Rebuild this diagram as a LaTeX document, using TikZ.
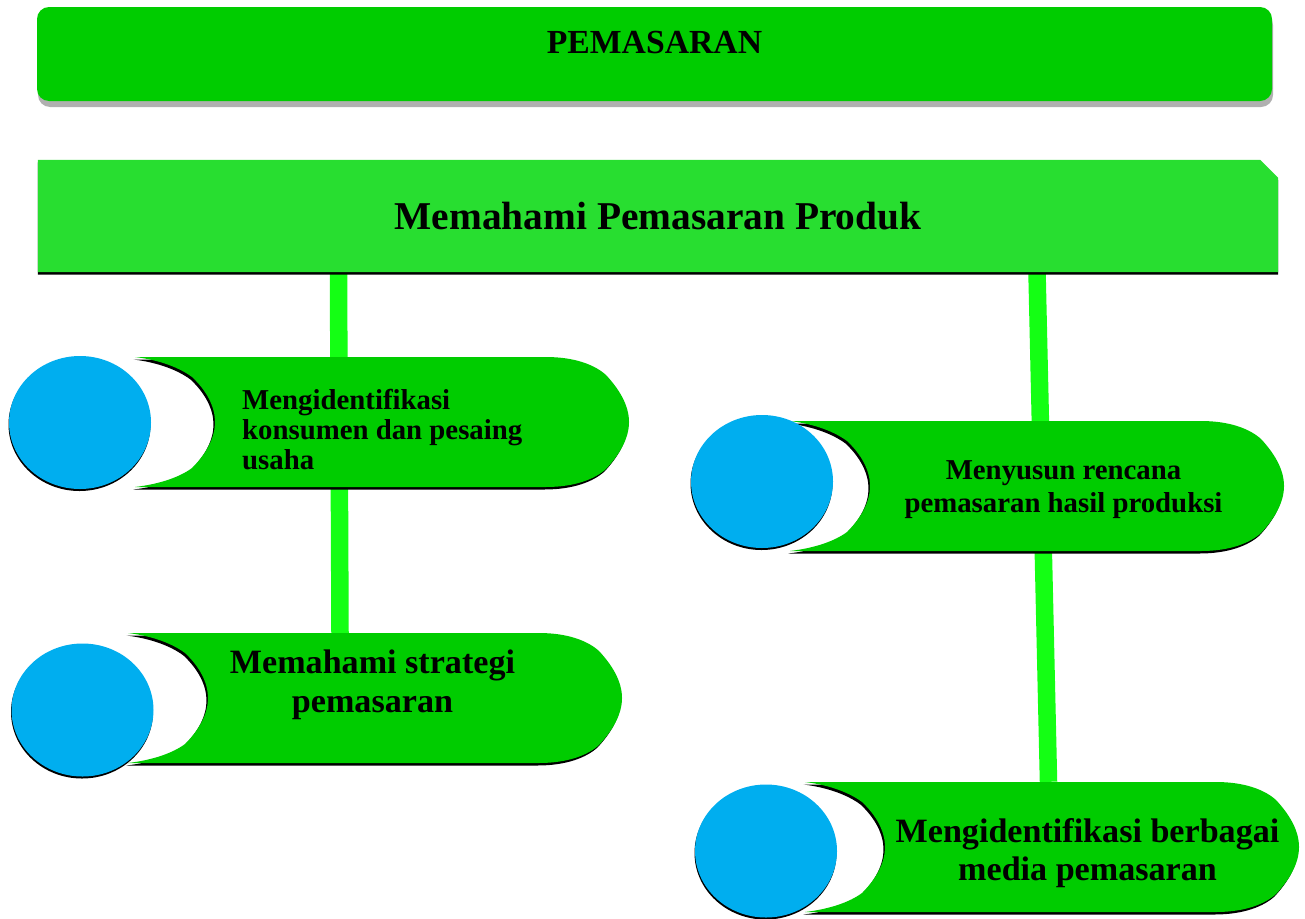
\documentclass[tikz,border=0pt]{standalone}
\usepackage{fontspec}
\setmainfont{Liberation Serif}[Ligatures=CommonOff]
\usepackage{tikz}
\usetikzlibrary{shapes.geometric, positioning, shadows}
\definecolor{TabGreen}{RGB}{0,204,0}
\definecolor{BarGreen}{RGB}{40,222,48}
\definecolor{LinkGreen}{RGB}{20,255,20}
\definecolor{DotBlue}{RGB}{0,174,239}
\definecolor{ShadowGray}{RGB}{176,176,176}

\pgfdeclarelayer{back}
\pgfsetlayers{back,main}

\tikzset{
  tabshadow/.style={drop shadow={shadow xshift=-1.5pt, shadow yshift=-2.5pt,
                    fill=black, opacity=1}},
  pics/tab/.style={code={
    \fill[TabGreen, tabshadow] (0,0) -- (411,0)
      .. controls (440,0) and (460,8) .. (471,18)
      .. controls (484,32) and (494,48) .. (494,65)
      .. controls (494,82) and (484,98) .. (471,112)
      .. controls (460,122) and (440,130) .. (411,130)
      -- (0,130)
      .. controls (25,127) and (45,120) .. (57,111)
      .. controls (72,96) and (80,80) .. (80,65)
      .. controls (80,50) and (72,34) .. (57,20)
      .. controls (45,11) and (25,3) .. cycle;
    \node[inner sep=0pt, minimum width=494pt, minimum height=130pt] (-body) at (247,65) {};
  }}
}

\begin{document}
\begin{tikzpicture}[x=1pt, y=-1pt,
      head/.style={rectangle, rounded corners=12pt, fill=TabGreen,
                   minimum width=1235pt, minimum height=94pt, inner sep=0pt,
                   text depth=24pt, font=\fontsize{33.7}{40}\selectfont\bfseries,
                   drop shadow={shadow xshift=1pt, shadow yshift=-6pt,
                                fill=ShadowGray, opacity=1}},
      bar/.style={rectangle, minimum width=1240pt, minimum height=112pt,
                  inner sep=0pt, font=\fontsize{39.4}{47}\selectfont\bfseries},
      dot/.style={ellipse, fill=DotBlue, minimum width=142pt, minimum height=133pt,
                  inner sep=0pt,
                  drop shadow={shadow xshift=-0.5pt, shadow yshift=-2pt,
                               fill=black, opacity=1}},
      link/.style={LinkGreen, line width=17.5pt},
      lblS/.style={inner sep=0pt, align=center,
                   font=\fontsize{28.8}{30}\selectfont\bfseries},
      lblL/.style={inner sep=0pt, align=center,
                   font=\fontsize{34.1}{38.5}\selectfont\bfseries}
    ]
    \useasboundingbox (0,0) rectangle (1305,918);

    % Header boxes
    \node[head] (top)  at (654.5,54) {PEMASARAN};
    \node[bar]  (main) at (658,216)  {Memahami Pemasaran Produk};

    % Tabs
    \pic (tabA) at (135,357) {tab};
    \pic (tabB) at (128,633) {tab};
    \pic (tabC) at (790,421) {tab};
    \pic (tabD) at (805,782) {tab};

    \node[dot] (dotA) at (80,422.5) {};
    \node[dot] (dotB) at (82.5,710) {};
    \node[dot] (dotC) at (762,481.5) {};
    \node[dot] (dotD) at (766,851) {};

    % Labels
    \node[lblS, align=left, anchor=west] (txtA) at (242,430)
        {Mengidentifikasi\\konsumen dan pesaing\\usaha};
    \node[lblL] (txtB) at (372.5,685) {Memahami strategi\\pemasaran};
    \node[lblS, font=\fontsize{28.8}{33}\selectfont\bfseries] (txtC) at (1063.5,490)
        {Menyusun rencana\\pemasaran hasil produksi};
    \node[lblL] (txtD) at (1087.5,853) {Mengidentifikasi berbagai\\media pemasaran};

    % Connectors and bar body
    \begin{pgfonlayer}{back}
      \draw[link] ([xshift=-319.5pt]main.south) -- ([xshift=-35pt]tabB-body.north);
      \draw[link] ([xshift=379pt]main.south) -- ([xshift=-3.5pt]tabD-body.north);
      \fill[BarGreen, drop shadow={shadow xshift=0pt, shadow yshift=-2.5pt,
                                   fill=black, opacity=1}]
        (main.south west) -- (main.north west) -- ([xshift=-18pt]main.north east)
        -- ([yshift=-18pt]main.north east) -- (main.south east) -- cycle;
    \end{pgfonlayer}
  \end{tikzpicture}
\end{document}
